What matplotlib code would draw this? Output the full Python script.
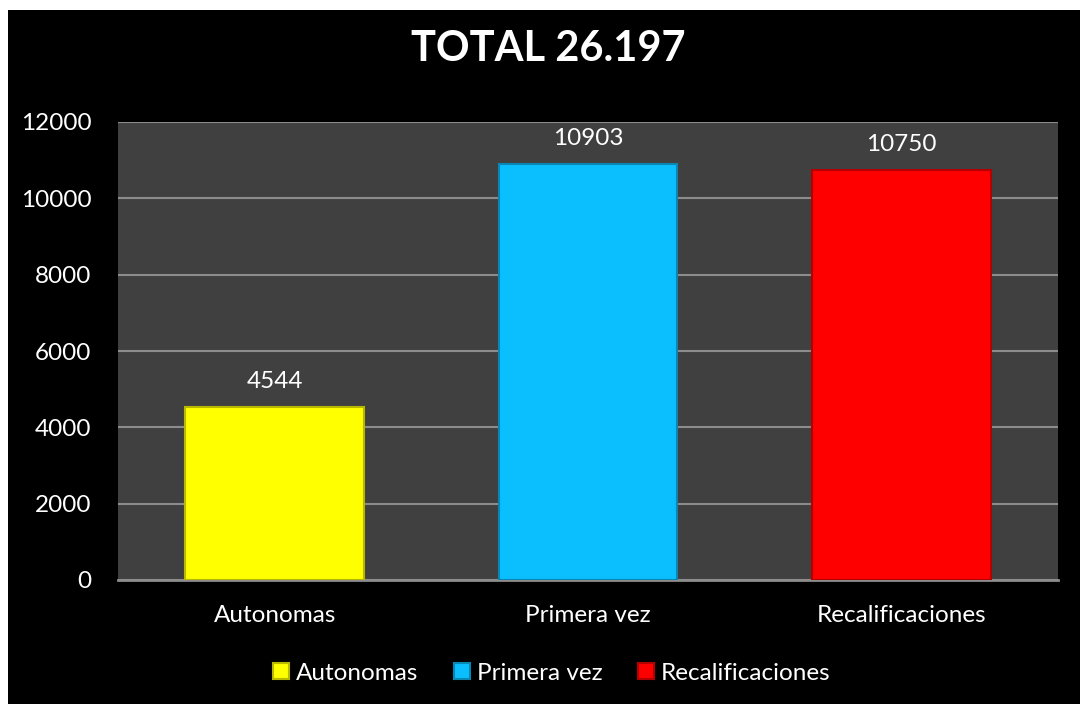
import matplotlib.pyplot as plt
from matplotlib.patches import Rectangle

# datos
categorias = ["Autonomas", "Primera vez", "Recalificaciones"]
valores = [4544, 10903, 10750]
colores = ["#FFFF00", "#0BBFFF", "#FF0000"]
bordes = ["#B8B800", "#0A86B3", "#B30000"]
titulo = "TOTAL 26.197"

plt.rcParams['font.family'] = ['Lato', 'DejaVu Sans']

fig = plt.figure(figsize=(10.8, 7.04), dpi=100, facecolor="white")
# fondo negro del gráfico
fig.patches.append(Rectangle((8 / 1080, 0), 1 - 8 / 1080, 1 - 10 / 704,
                             transform=fig.transFigure, facecolor="black",
                             edgecolor="none", zorder=-5))

ax = fig.add_axes([118 / 1080, 1 - 580 / 704, (1058 - 118) / 1080, (580 - 122) / 704])
ax.set_facecolor("#404040")

x = range(len(categorias))
barras = ax.bar(x, valores, width=0.57, color=colores, edgecolor=bordes,
                linewidth=1.5, zorder=3, label=categorias)

for xi, v in zip(x, valores):
    ax.text(xi, v + 380, str(v), ha="center", va="bottom", color="white",
            fontsize=17.5, zorder=4)

ax.set_ylim(0, 12000)
ax.set_xlim(-0.5, 2.5)
ax.set_yticks(range(0, 12001, 2000))
ax.set_xticks(list(x))
ax.set_xticklabels(categorias)
ax.yaxis.grid(True, color="#8C8C8C", linewidth=1.5, zorder=1)
ax.set_axisbelow(True)
ax.tick_params(colors="white", labelsize=17.5, length=0)
ax.tick_params(axis="y", pad=19)
ax.tick_params(axis="x", pad=18)
for lado in ["top", "right", "left"]:
    ax.spines[lado].set_visible(False)
ax.spines["bottom"].set_color("#8C8C8C")
ax.spines["bottom"].set_linewidth(2)

fig.text(548 / 1080, 1 - 49 / 704, titulo, ha="center", va="center",
         color="white", fontsize=30, fontweight="bold")

leg = fig.legend(handles=barras, labels=categorias, loc="center",
                 bbox_to_anchor=(552 / 1080, 1 - 673 / 704), ncol=3,
                 frameon=False, fontsize=17.5, labelcolor="white",
                 handlelength=0.65, handleheight=0.65, handletextpad=0.3,
                 columnspacing=1.45)

fig.savefig("out.png", dpi=100, facecolor=fig.get_facecolor())
